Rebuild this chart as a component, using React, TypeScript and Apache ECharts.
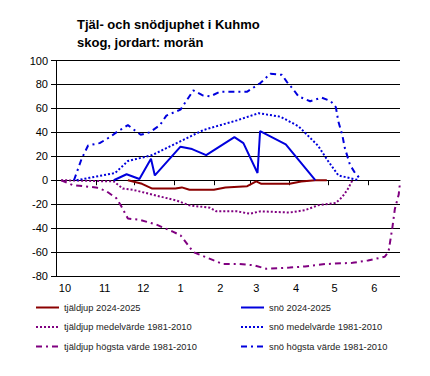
import React, { useEffect, useRef } from "react";
import * as echarts from "echarts";

// x = days since 1 October
const monthStarts = [31, 61, 92, 123, 151, 182, 212, 243];
const monthLabels = ["10", "11", "12", "1", "2", "3", "4", "5", "6"];
const monthLabelDays = [7, 38, 68, 97, 128, 156, 187, 217, 248];

const frost2425: [number, number][] = [
  [56, 0], [67, -3], [75, -7], [93, -7], [98, -6], [104, -8], [123, -8], [132, -6],
  [149, -5], [156, -1], [160, -3], [182, -3], [191, -1], [202, 0], [211, 0],
];
const frostMean: [number, number][] = [
  [4, 0], [45, -1], [52, -7], [60, -8], [75, -12], [94, -17], [104, -21], [120, -23],
  [125, -26], [141, -26], [151, -28], [159, -26], [182, -27], [194, -25], [204, -21],
  [218, -19], [223, -14], [227, -8], [231, 0],
];
const frostMax: [number, number][] = [
  [4, 0], [13, -4], [21, -5], [31, -6], [34, -7], [39, -9], [47, -15], [51, -22],
  [56, -32], [65, -33], [78, -37], [91, -43], [97, -46], [107, -60], [123, -67],
  [130, -70], [143, -70], [154, -71], [164, -74], [182, -73], [194, -72], [210, -70],
  [231, -69], [243, -67], [256, -64], [259, -60], [262, -40], [264, -24], [267, -12], [268, -2],
];
const snow2425: [number, number][] = [
  [45, 0], [55, 5], [65, 1], [74, 18], [77, 4], [97, 28], [106, 26], [117, 21],
  [139, 36], [146, 31], [157, 6], [159, 41], [179, 30], [202, 0],
];
const snowMean: [number, number][] = [
  [16, 0], [26, 2], [46, 6], [56, 16], [75, 21], [94, 31], [115, 42], [141, 50],
  [158, 56], [175, 53], [189, 45], [204, 29], [212, 16], [220, 4], [236, 0],
];
const snowMax: [number, number][] = [
  [14, 0], [20, 18], [25, 29], [34, 31], [42, 36], [47, 40], [56, 46], [61, 42],
  [66, 38], [73, 40], [81, 46], [86, 54], [97, 59], [107, 75], [114, 71], [120, 70],
  [128, 74], [149, 74], [159, 81], [167, 89], [176, 88], [180, 82], [184, 77],
  [189, 70], [198, 66], [207, 69], [214, 66], [218, 61], [220, 49], [223, 38],
  [225, 27], [229, 13], [233, 6], [238, 0],
];

const FONT = "'Liberation Sans', Arial, sans-serif";
const RED = "#8B0000";
const PURPLE = "#800080";
const BLUE = "#0000DD";
const DOT = [2, 2];
const DASHDOT = [6, 4, 2, 4];

export default function App() {
  const ref = useRef<HTMLDivElement>(null);
  useEffect(() => {
    if (!ref.current) return;
    const chart = echarts.init(ref.current, null, { renderer: "svg" });
    const mk = (name: string, data: [number, number][], color: string, type: any) => ({
      name,
      type: "line",
      data,
      xAxisIndex: 0,
      symbol: "none",
      showSymbol: false,
      lineStyle: { color, width: 2, type },
      itemStyle: { color },
    });
    const legendBase = {
      orient: "vertical",
      top: 298,
      itemWidth: 23,
      itemHeight: 10,
      itemGap: 10.5,
      itemStyle: { opacity: 0 },
      textStyle: { fontFamily: FONT, fontSize: 9.3, color: "#222" },
    };
    chart.setOption({
      animation: false,
      backgroundColor: "#fff",
      title: {
        text: "Tjäl- och snödjuphet i Kuhmo\nskog, jordart: morän",
        left: 72,
        top: 10,
        textStyle: { fontFamily: FONT, fontSize: 13, fontWeight: "bold", color: "#000", lineHeight: 18 },
      },
      grid: { left: 56, right: 30, top: 60.5, bottom: 100, containLabel: false },
      xAxis: [
        {
          type: "value",
          min: 0,
          max: 268,
          position: "bottom",
          axisLine: { show: false, onZero: false },
          axisTick: { show: false },
          splitLine: { show: false },
          axisLabel: {
            customValues: monthLabelDays,
            formatter: (v: number) => monthLabels[monthLabelDays.indexOf(v)] ?? "",
            fontFamily: FONT,
            fontSize: 11,
            color: "#000",
            margin: 6,
          },
        },
        {
          type: "value",
          min: 0,
          max: 268,
          position: "top",
          axisLine: { show: true, onZero: true, lineStyle: { color: "#000", width: 1 } },
          axisTick: { show: true, inside: true, length: 5, customValues: monthStarts, lineStyle: { color: "#000" } },
          axisLabel: { show: false },
          splitLine: { show: false },
        },
      ],
      yAxis: {
        type: "value",
        min: -80,
        max: 100,
        interval: 20,
        axisLine: { show: true, onZero: false, lineStyle: { color: "#000" } },
        axisTick: { show: true, length: 5, lineStyle: { color: "#000" } },
        splitLine: { show: true, lineStyle: { color: "#000", width: 1 } },
        axisLabel: { fontFamily: FONT, fontSize: 11, color: "#000", margin: 8 },
      },
      legend: [
        {
          ...legendBase,
          left: 30,
          data: ["tjäldjup 2024-2025", "tjäldjup medelvärde 1981-2010", "tjäldjup högsta värde 1981-2010"],
        },
        {
          ...legendBase,
          left: 235,
          data: ["snö 2024-2025", "snö medelvärde 1981-2010", "snö högsta värde 1981-2010"],
        },
      ],
      series: [
        mk("tjäldjup högsta värde 1981-2010", frostMax, PURPLE, DASHDOT),
        mk("tjäldjup medelvärde 1981-2010", frostMean, PURPLE, DOT),
        mk("tjäldjup 2024-2025", frost2425, RED, "solid"),
        mk("snö högsta värde 1981-2010", snowMax, BLUE, DASHDOT),
        mk("snö medelvärde 1981-2010", snowMean, BLUE, DOT),
        mk("snö 2024-2025", snow2425, BLUE, "solid"),
      ],
    });
    return () => chart.dispose();
  }, []);
  return <div ref={ref} style={{ width: 430, height: 376, position: "absolute", left: 0, top: 0 }} />;
}
